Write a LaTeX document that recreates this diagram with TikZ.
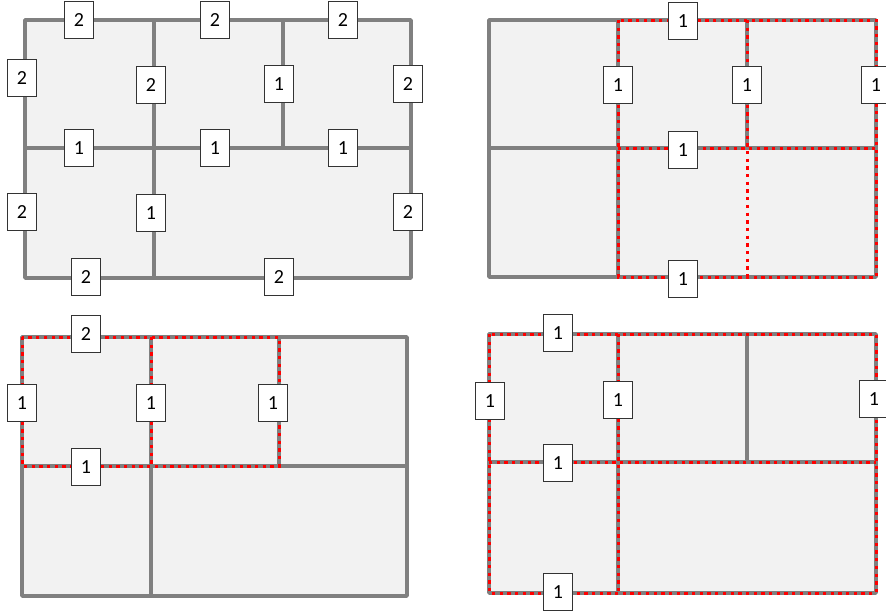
\documentclass[tikz,border=0pt]{standalone}
\usepackage{fontspec}
\setmainfont{Carlito}
\definecolor{linegray}{RGB}{128,128,128}
\definecolor{panelfill}{RGB}{242,242,242}
\definecolor{dotred}{RGB}{255,0,0}
\begin{document}
\begin{tikzpicture}[x=1pt,y=-1pt,
  wall/.style={draw=linegray,line width=3.5pt,line cap=round,line join=round},
  cut/.style={draw=dotred,line width=3pt,dash pattern=on 3.3pt off 4.4pt},
  area/.style={fill=panelfill},
  lbl/.style={draw=black!80,line width=0.8pt,fill=white,minimum width=29pt,minimum height=37pt,inner sep=0pt,font=\fontsize{20}{20}\selectfont}]
\useasboundingbox (0,0) rectangle (886,614);

% ---------- Panel A (top-left) ----------
\fill[area] (25,20) rectangle (411,278);
\draw[wall] (25,20) rectangle (411,278);
\draw[wall] (154,20) -- (154,278);
\draw[wall] (283,20) -- (283,148);
\draw[wall] (25,148) -- (411,148);
\node[lbl] (a1) at (79,20) {2};
\node[lbl] (a2) at (215,20) {2};
\node[lbl] (a3) at (343,20) {2};
\node[lbl] (a4) at (22,78) {2};
\node[lbl] (a5) at (151,85) {2};
\node[lbl] (a6) at (279,84) {1};
\node[lbl] (a7) at (408,84) {2};
\node[lbl] (a8) at (79,148) {1};
\node[lbl] (a9) at (215,148) {1};
\node[lbl] (a10) at (343,148) {1};
\node[lbl] (a11) at (22,212) {2};
\node[lbl] (a12) at (151,213) {1};
\node[lbl] (a13) at (408,212) {2};
\node[lbl] (a14) at (86,277) {2};
\node[lbl] (a15) at (279,277) {2};

% ---------- Panel B (top-right) ----------
\fill[area] (489,20) rectangle (876,277);
\draw[wall] (489,20) rectangle (876,277);
\draw[wall] (618,20) -- (618,277);
\draw[wall] (747,20) -- (747,148);
\draw[wall] (489,148) -- (876,148);
\draw[cut] (618,20) rectangle (876,277);
\draw[cut] (618,148) -- (876,148);
\draw[cut] (747,20) -- (747,277);
\node[lbl] (b1) at (683,21) {1};
\node[lbl] (b2) at (618,85) {1};
\node[lbl] (b3) at (747,85) {1};
\node[lbl] (b4) at (876,85) {1};
\node[lbl] (b5) at (683,150) {1};
\node[lbl] (b6) at (683,279) {1};

% ---------- Panel C (bottom-left) ----------
\fill[area] (22,337) rectangle (407,596);
\draw[wall] (22,337) rectangle (407,596);
\draw[wall] (151,337) -- (151,596);
\draw[wall] (279,337) -- (279,466);
\draw[wall] (22,466) -- (407,466);
\draw[cut] (22,337) rectangle (279,466);
\draw[cut] (151,337) -- (151,466);
\node[lbl] (c1) at (86,334) {2};
\node[lbl] (c2) at (22,403) {1};
\node[lbl] (c3) at (151,403) {1};
\node[lbl] (c4) at (273,403) {1};
\node[lbl] (c5) at (86,467) {1};

% ---------- Panel D (bottom-right) ----------
\fill[area] (489,334) rectangle (876,593);
\draw[wall] (489,334) rectangle (876,593);
\draw[wall] (618,334) -- (618,593);
\draw[wall] (747,334) -- (747,462);
\draw[wall] (489,462) -- (876,462);
\draw[cut] (489,334) rectangle (876,593);
\draw[cut] (618,334) -- (618,593);
\draw[cut] (489,462) -- (876,462);
\node[lbl] (d1) at (558,333) {1};
\node[lbl] (d2) at (490,401) {1};
\node[lbl] (d3) at (618,400) {1};
\node[lbl] (d4) at (874,399) {1};
\node[lbl] (d5) at (558,463) {1};
\node[lbl] (d6) at (558,592) {1};
\end{tikzpicture}
\end{document}
